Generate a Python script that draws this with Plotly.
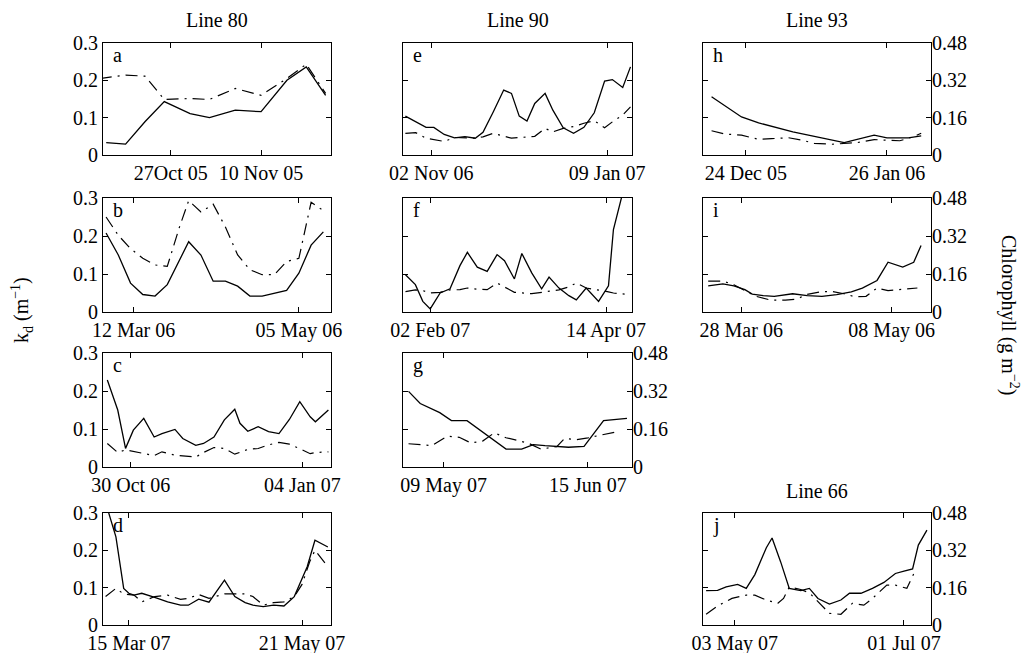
import plotly.graph_objects as go

W, H = 1031, 653
FONT = "Liberation Serif, Times New Roman, DejaVu Serif, serif"
FS = 20

# ---------------- Panel a (Line 80) ----------------
a_kd_dates = ["2005-10-17", "2005-10-20", "2005-10-23", "2005-10-26", "2005-10-30", "2005-11-02",
              "2005-11-06", "2005-11-10", "2005-11-14", "2005-11-17", "2005-11-20"]
a_kd = [0.033, 0.029, 0.089, 0.143, 0.111, 0.100, 0.120, 0.116, 0.200, 0.236, 0.160]
a_chl_dates = ["2005-10-16", "2005-10-20", "2005-10-23", "2005-10-26", "2005-10-30", "2005-11-02",
               "2005-11-06", "2005-11-10", "2005-11-14", "2005-11-17", "2005-11-20"]
a_chl = [0.328, 0.342, 0.338, 0.238, 0.242, 0.238, 0.285, 0.256, 0.328, 0.389, 0.264]
a_ticks = ["2005-10-27", "2005-11-10"]
a_ticklabels = ["27Oct 05", "10 Nov 05"]
a_xlim = ["2005-10-16 12:00", "2005-11-20 20:00"]

# ---------------- Panel b (Line 80) ----------------
b_kd_dates = ["2006-03-03", "2006-03-07", "2006-03-11", "2006-03-15", "2006-03-19", "2006-03-23",
              "2006-03-30", "2006-04-03", "2006-04-07", "2006-04-11", "2006-04-15", "2006-04-19",
              "2006-04-23", "2006-05-01", "2006-05-05", "2006-05-09", "2006-05-13"]
b_kd = [0.208, 0.150, 0.076, 0.046, 0.042, 0.072, 0.185, 0.150, 0.081, 0.081, 0.068, 0.042,
        0.042, 0.057, 0.102, 0.176, 0.211]
b_chl_dates = ["2006-03-03", "2006-03-07", "2006-03-11", "2006-03-15", "2006-03-19", "2006-03-23",
               "2006-03-27", "2006-03-30", "2006-04-03", "2006-04-07", "2006-04-11", "2006-04-15",
               "2006-04-19", "2006-04-23", "2006-04-27", "2006-05-01", "2006-05-05", "2006-05-09",
               "2006-05-13"]
b_chl = [0.400, 0.323, 0.267, 0.226, 0.198, 0.192, 0.358, 0.469, 0.421, 0.454, 0.358, 0.240,
         0.178, 0.157, 0.157, 0.213, 0.226, 0.462, 0.427]
b_ticks = ["2006-03-12", "2006-05-05"]
b_ticklabels = ["12 Mar 06", "05 May 06"]
b_xlim = ["2006-03-02", "2006-05-15 12:00"]

# ---------------- Panel c (Line 80) ----------------
c_kd_dates = ["2006-10-21", "2006-10-25", "2006-10-28", "2006-10-31", "2006-11-04", "2006-11-08",
              "2006-11-11", "2006-11-16", "2006-11-19", "2006-11-24", "2006-11-27", "2006-12-01",
              "2006-12-05", "2006-12-09", "2006-12-11", "2006-12-14", "2006-12-18", "2006-12-22",
              "2006-12-26", "2006-12-30", "2007-01-03", "2007-01-07", "2007-01-09", "2007-01-14"]
c_kd = [0.229, 0.150, 0.049, 0.097, 0.128, 0.079, 0.088, 0.099, 0.075, 0.057, 0.062, 0.079,
        0.124, 0.152, 0.115, 0.094, 0.106, 0.093, 0.088, 0.125, 0.172, 0.132, 0.119, 0.150]
c_chl_dates = ["2006-10-21", "2006-10-25", "2006-10-28", "2006-11-04", "2006-11-08", "2006-11-11",
               "2006-11-16", "2006-11-24", "2006-11-27", "2006-12-01", "2006-12-05", "2006-12-09",
               "2006-12-14", "2006-12-18", "2006-12-22", "2006-12-26", "2006-12-30", "2007-01-03",
               "2007-01-07", "2007-01-09", "2007-01-14"]
c_chl = [0.099, 0.061, 0.072, 0.056, 0.048, 0.064, 0.050, 0.042, 0.061, 0.082, 0.078, 0.054,
         0.074, 0.078, 0.093, 0.104, 0.096, 0.077, 0.056, 0.061, 0.064]
c_ticks = ["2006-10-30", "2007-01-04"]
c_ticklabels = ["30 Oct 06", "04 Jan 07"]
c_xlim = ["2006-10-19 08:00", "2007-01-15"]

# ---------------- Panel d (Line 80) ----------------
d_kd_dates = ["2007-03-07", "2007-03-10", "2007-03-13", "2007-03-15", "2007-03-17", "2007-03-20",
              "2007-03-25", "2007-03-30", "2007-04-04", "2007-04-07", "2007-04-11", "2007-04-15",
              "2007-04-21", "2007-04-25", "2007-04-29", "2007-05-02", "2007-05-06", "2007-05-10",
              "2007-05-14", "2007-05-18", "2007-05-23", "2007-05-26", "2007-05-31"]
d_kd = [0.305, 0.236, 0.098, 0.085, 0.080, 0.085, 0.074, 0.062, 0.053, 0.053, 0.069, 0.061,
        0.120, 0.076, 0.060, 0.053, 0.049, 0.053, 0.051, 0.076, 0.156, 0.227, 0.209]
d_chl_dates = ["2007-03-06", "2007-03-10", "2007-03-13", "2007-03-17", "2007-03-20", "2007-03-25",
               "2007-03-30", "2007-04-04", "2007-04-07", "2007-04-11", "2007-04-15", "2007-04-21",
               "2007-04-25", "2007-04-29", "2007-05-02", "2007-05-06", "2007-05-10", "2007-05-14",
               "2007-05-18", "2007-05-21", "2007-05-24", "2007-05-26", "2007-05-31"]
d_chl = [0.122, 0.157, 0.133, 0.128, 0.099, 0.122, 0.128, 0.110, 0.114, 0.131, 0.114, 0.133,
         0.133, 0.133, 0.122, 0.085, 0.096, 0.099, 0.122, 0.174, 0.272, 0.320, 0.250]
d_ticks = ["2007-03-15", "2007-05-21"]
d_ticklabels = ["15 Mar 07", "21 May 07"]
d_xlim = ["2007-03-05", "2007-06-01 05:00"]

# ---------------- Panel e (Line 90) ----------------
e_kd_dates = ["2006-10-23", "2006-10-27", "2006-10-31", "2006-11-03", "2006-11-07", "2006-11-11",
              "2006-11-15", "2006-11-19", "2006-11-22", "2006-11-26", "2006-11-30", "2006-12-03",
              "2006-12-06", "2006-12-09", "2006-12-12", "2006-12-16", "2006-12-19", "2006-12-23",
              "2006-12-27", "2006-12-31", "2007-01-04", "2007-01-08", "2007-01-11", "2007-01-15",
              "2007-01-18"]
e_kd = [0.104, 0.089, 0.074, 0.074, 0.055, 0.046, 0.049, 0.045, 0.061, 0.116, 0.174, 0.165,
        0.104, 0.091, 0.138, 0.165, 0.120, 0.073, 0.058, 0.074, 0.113, 0.198, 0.202, 0.181, 0.236]
e_chl_dates = ["2006-10-23", "2006-10-27", "2006-10-31", "2006-11-07", "2006-11-11", "2006-11-19",
               "2006-11-22", "2006-11-26", "2006-12-03", "2006-12-08", "2006-12-12", "2006-12-16",
               "2006-12-19", "2006-12-23", "2006-12-27", "2006-12-31", "2007-01-04", "2007-01-08",
               "2007-01-11", "2007-01-15", "2007-01-18"]
e_chl = [0.093, 0.096, 0.072, 0.058, 0.075, 0.072, 0.078, 0.093, 0.072, 0.078, 0.080, 0.114,
         0.099, 0.114, 0.122, 0.136, 0.147, 0.117, 0.142, 0.171, 0.206]
e_ticks = ["2006-11-02", "2007-01-09"]
e_ticklabels = ["02 Nov 06", "09 Jan 07"]
e_xlim = ["2006-10-22 02:00", "2007-01-18 14:00"]

# ---------------- Panel f (Line 90) ----------------
f_kd_dates = ["2007-01-23", "2007-01-27", "2007-01-30", "2007-02-02", "2007-02-06", "2007-02-10",
              "2007-02-14", "2007-02-17", "2007-02-21", "2007-02-25", "2007-03-01", "2007-03-04",
              "2007-03-08", "2007-03-11", "2007-03-15", "2007-03-19", "2007-03-22", "2007-03-26",
              "2007-03-30", "2007-04-02", "2007-04-06", "2007-04-11", "2007-04-15", "2007-04-17",
              "2007-04-21"]
f_kd = [0.098, 0.072, 0.028, 0.008, 0.050, 0.061, 0.122, 0.157, 0.118, 0.107, 0.151, 0.135,
        0.087, 0.154, 0.103, 0.061, 0.092, 0.063, 0.043, 0.032, 0.063, 0.028, 0.069, 0.217, 0.320]
f_chl_dates = ["2007-01-23", "2007-01-27", "2007-01-30", "2007-02-02", "2007-02-06", "2007-02-10",
               "2007-02-14", "2007-02-17", "2007-02-21", "2007-02-25", "2007-03-01", "2007-03-04",
               "2007-03-08", "2007-03-15", "2007-03-19", "2007-03-22", "2007-03-26", "2007-03-30",
               "2007-04-02", "2007-04-06", "2007-04-11", "2007-04-15", "2007-04-17", "2007-04-23"]
f_chl = [0.086, 0.093, 0.090, 0.080, 0.083, 0.093, 0.094, 0.101, 0.096, 0.094, 0.122, 0.106,
         0.083, 0.077, 0.083, 0.090, 0.093, 0.106, 0.122, 0.101, 0.093, 0.085, 0.080, 0.074]
f_ticks = ["2007-02-02", "2007-04-14"]
f_ticklabels = ["02 Feb 07", "14 Apr 07"]
f_xlim = ["2007-01-22", "2007-04-24 12:00"]

# ---------------- Panel g (Line 90) ----------------
g_kd_dates = ["2007-04-30", "2007-05-03", "2007-05-08", "2007-05-11", "2007-05-15", "2007-05-25",
              "2007-05-29", "2007-06-01", "2007-06-04", "2007-06-10", "2007-06-14", "2007-06-19",
              "2007-06-25"]
g_kd = [0.199, 0.167, 0.143, 0.122, 0.122, 0.047, 0.047, 0.059, 0.056, 0.052, 0.054, 0.122, 0.128]
g_chl_dates = ["2007-04-30", "2007-05-03", "2007-05-06", "2007-05-10", "2007-05-13", "2007-05-16",
               "2007-05-19", "2007-05-22", "2007-05-25", "2007-05-28", "2007-05-31", "2007-06-03",
               "2007-06-07", "2007-06-09", "2007-06-12", "2007-06-15", "2007-06-18", "2007-06-22"]
g_chl = [0.098, 0.094, 0.090, 0.130, 0.125, 0.101, 0.109, 0.144, 0.123, 0.112, 0.098, 0.075,
         0.086, 0.120, 0.115, 0.123, 0.134, 0.147]
g_ticks = ["2007-05-09", "2007-06-15"]
g_ticklabels = ["09 May 07", "15 Jun 07"]
g_xlim = ["2007-04-28 14:00", "2007-06-26 07:00"]

# ---------------- Panel h (Line 93) ----------------
h_kd_dates = ["2005-12-16", "2005-12-23", "2005-12-27", "2006-01-04", "2006-01-16", "2006-01-23",
              "2006-01-26", "2006-01-31", "2006-02-03"]
h_kd = [0.156, 0.102, 0.086, 0.062, 0.033, 0.053, 0.046, 0.046, 0.051]
h_chl_dates = ["2005-12-16", "2005-12-19", "2005-12-23", "2005-12-27", "2005-12-30", "2006-01-03",
               "2006-01-06", "2006-01-09", "2006-01-13", "2006-01-16", "2006-01-19", "2006-01-23",
               "2006-01-26", "2006-01-29", "2006-02-01", "2006-02-03"]
h_chl = [0.104, 0.090, 0.085, 0.067, 0.070, 0.074, 0.064, 0.050, 0.046, 0.050, 0.053, 0.066,
         0.064, 0.061, 0.077, 0.093]
h_ticks = ["2005-12-24", "2006-01-26"]
h_ticklabels = ["24 Dec 05", "26 Jan 06"]
h_xlim = ["2005-12-14", "2006-02-05 07:00"]

# ---------------- Panel i (Line 93) ----------------
i_kd_dates = ["2006-03-19", "2006-03-23", "2006-03-26", "2006-03-29", "2006-03-31", "2006-04-03",
              "2006-04-06", "2006-04-11", "2006-04-15", "2006-04-19", "2006-04-23", "2006-04-27",
              "2006-04-30", "2006-05-04", "2006-05-07", "2006-05-11", "2006-05-14", "2006-05-16"]
i_kd = [0.069, 0.074, 0.069, 0.059, 0.047, 0.043, 0.041, 0.048, 0.043, 0.041, 0.046, 0.053,
        0.063, 0.083, 0.131, 0.118, 0.131, 0.175]
i_chl_dates = ["2006-03-19", "2006-03-23", "2006-03-26", "2006-03-29", "2006-04-01", "2006-04-05",
               "2006-04-09", "2006-04-12", "2006-04-15", "2006-04-19", "2006-04-22", "2006-04-25",
               "2006-04-28", "2006-05-01", "2006-05-04", "2006-05-07", "2006-05-11", "2006-05-15"]
i_chl = [0.130, 0.130, 0.115, 0.091, 0.066, 0.050, 0.050, 0.054, 0.074, 0.086, 0.086, 0.077,
         0.064, 0.066, 0.101, 0.090, 0.094, 0.101]
i_ticks = ["2006-03-28", "2006-05-08"]
i_ticklabels = ["28 Mar 06", "08 May 06"]
i_xlim = ["2006-03-17 14:00", "2006-05-18 17:00"]

# ---------------- Panel j (Line 66) ----------------
j_kd_dates = ["2007-04-23", "2007-04-27", "2007-04-30", "2007-05-04", "2007-05-07", "2007-05-10",
              "2007-05-14", "2007-05-16", "2007-05-19", "2007-05-22", "2007-05-26", "2007-05-29",
              "2007-06-01", "2007-06-05", "2007-06-09", "2007-06-12", "2007-06-16", "2007-06-20",
              "2007-06-24", "2007-06-28", "2007-07-01", "2007-07-04", "2007-07-06", "2007-07-09"]
j_kd = [0.092, 0.093, 0.102, 0.109, 0.098, 0.135, 0.207, 0.233, 0.169, 0.098, 0.092, 0.098,
        0.071, 0.056, 0.067, 0.085, 0.085, 0.098, 0.114, 0.138, 0.144, 0.150, 0.214, 0.254]
j_chl_dates = ["2007-04-23", "2007-04-27", "2007-05-02", "2007-05-07", "2007-05-10", "2007-05-14",
               "2007-05-18", "2007-05-20", "2007-05-22", "2007-05-26", "2007-05-29", "2007-06-01",
               "2007-06-05", "2007-06-09", "2007-06-13", "2007-06-17", "2007-06-20", "2007-06-25",
               "2007-06-28", "2007-07-02", "2007-07-05"]
j_chl = [0.046, 0.082, 0.114, 0.128, 0.128, 0.107, 0.093, 0.114, 0.163, 0.152, 0.138, 0.099,
         0.050, 0.046, 0.093, 0.085, 0.114, 0.171, 0.171, 0.157, 0.235]
j_ticks = ["2007-05-03", "2007-07-01"]
j_ticklabels = ["03 May 07", "01 Jul 07"]
j_xlim = ["2007-04-21 22:00", "2007-07-10 10:00"]

kd_ticks = [0, 0.1, 0.2, 0.3]
kd_ticklabels = ["0", "0.1", "0.2", "0.3"]
chl_ticks = [0, 0.16, 0.32, 0.48]
chl_ticklabels = ["0", "0.16", "0.32", "0.48"]

titles = ["Line 80", "Line 90", "Line 93", "Line 66"]

# ---------------- layout geometry (pixels) ----------------
cols = [(103, 331), (403, 632), (703, 931)]
rows = [(43, 155), (198, 312), (353, 467), (513, 625)]

panels = [
    ("a", a_kd_dates, a_kd, a_chl_dates, a_chl, a_ticks, a_ticklabels, a_xlim, 0, 0, True, False),
    ("b", b_kd_dates, b_kd, b_chl_dates, b_chl, b_ticks, b_ticklabels, b_xlim, 0, 1, True, False),
    ("c", c_kd_dates, c_kd, c_chl_dates, c_chl, c_ticks, c_ticklabels, c_xlim, 0, 2, True, False),
    ("d", d_kd_dates, d_kd, d_chl_dates, d_chl, d_ticks, d_ticklabels, d_xlim, 0, 3, True, False),
    ("e", e_kd_dates, e_kd, e_chl_dates, e_chl, e_ticks, e_ticklabels, e_xlim, 1, 0, False, False),
    ("f", f_kd_dates, f_kd, f_chl_dates, f_chl, f_ticks, f_ticklabels, f_xlim, 1, 1, False, False),
    ("g", g_kd_dates, g_kd, g_chl_dates, g_chl, g_ticks, g_ticklabels, g_xlim, 1, 2, False, True),
    ("h", h_kd_dates, h_kd, h_chl_dates, h_chl, h_ticks, h_ticklabels, h_xlim, 2, 0, False, True),
    ("i", i_kd_dates, i_kd, i_chl_dates, i_chl, i_ticks, i_ticklabels, i_xlim, 2, 1, False, True),
    ("j", j_kd_dates, j_kd, j_chl_dates, j_chl, j_ticks, j_ticklabels, j_xlim, 2, 3, False, True),
]

fig = go.Figure()
layout = {}
annotations = []
font = dict(family=FONT, size=FS, color="black")
DASHDOT = "12px,6px,2px,6px"

for k, (lab, kx, ky, cx, cy, tv, tt, xlim, ci, ri, left_lab, right_lab) in enumerate(panels, start=1):
    x0, x1 = cols[ci]
    y0, y1 = rows[ri]
    xa = f"x{k}"
    ya = f"y{k}"
    ya2 = f"y{k + 10}"
    fig.add_trace(go.Scatter(x=kx, y=ky, mode="lines", xaxis=xa, yaxis=ya,
                             line=dict(color="black", width=1.3), showlegend=False,
                             hoverinfo="skip"))
    fig.add_trace(go.Scatter(x=cx, y=cy, mode="lines", xaxis=xa, yaxis=ya2,
                             line=dict(color="black", width=1.2, dash=DASHDOT), showlegend=False,
                             hoverinfo="skip"))
    layout[f"xaxis{k}"] = dict(
        domain=[x0 / W, x1 / W], anchor=ya, type="date", range=xlim, automargin=False,
        tickmode="array", tickvals=tv, ticktext=tt, ticks="inside", ticklen=5,
        tickcolor="black", mirror="ticks", showline=True, linecolor="black", linewidth=1,
        showgrid=False, zeroline=False, tickfont=font, tickangle=0)
    layout[f"yaxis{k}"] = dict(
        domain=[1 - y1 / H, 1 - y0 / H], anchor=xa, range=[0, 0.3], automargin=False,
        tickmode="array", tickvals=kd_ticks, ticktext=kd_ticklabels, ticks="inside", ticklen=5,
        tickcolor="black", mirror="ticks", showline=True, linecolor="black", linewidth=1,
        showgrid=False, zeroline=False, tickfont=font, showticklabels=left_lab)
    layout[f"yaxis{k + 10}"] = dict(
        overlaying=ya, anchor=xa, side="right", range=[0, 0.48], automargin=False,
        tickmode="array", tickvals=chl_ticks, ticktext=chl_ticklabels, ticks="",
        showline=False, showgrid=False, zeroline=False, tickfont=font,
        showticklabels=right_lab)
    annotations.append(dict(text=lab, x=(x0 + 8) / W, y=1 - (y0 + 12) / H, xref="paper",
                            yref="paper", xanchor="left", yanchor="middle", showarrow=False,
                            font=font))

title_pos = [((cols[0][0] + cols[0][1]) / 2, 20), ((cols[1][0] + cols[1][1]) / 2, 20),
             ((cols[2][0] + cols[2][1]) / 2, 20), ((cols[2][0] + cols[2][1]) / 2, 491)]
for t, (px, py) in zip(titles, title_pos):
    annotations.append(dict(text=t, x=px / W, y=1 - py / H, xref="paper", yref="paper",
                            xanchor="center", yanchor="middle", showarrow=False, font=font))

annotations.append(dict(text="k<sub>d</sub> (m<sup>\u22121</sup>)", x=22 / W, y=1 - 310 / H,
                        xref="paper", yref="paper", xanchor="center", yanchor="middle",
                        textangle=-90, showarrow=False, font=font))
annotations.append(dict(text="Chlorophyll (g m<sup>\u22122</sup>)", x=1010 / W, y=1 - 315 / H,
                        xref="paper", yref="paper", xanchor="center", yanchor="middle",
                        textangle=90, showarrow=False, font=font))

fig.update_layout(**layout)
fig.update_layout(template="none", width=W, height=H, margin=dict(l=0, r=0, t=0, b=0),
                  paper_bgcolor="white", plot_bgcolor="white", annotations=annotations,
                  font=font)
fig.write_html("out.html", config={"displayModeBar": False},
               post_script="document.body.style.margin='0';document.body.style.padding='0';")
